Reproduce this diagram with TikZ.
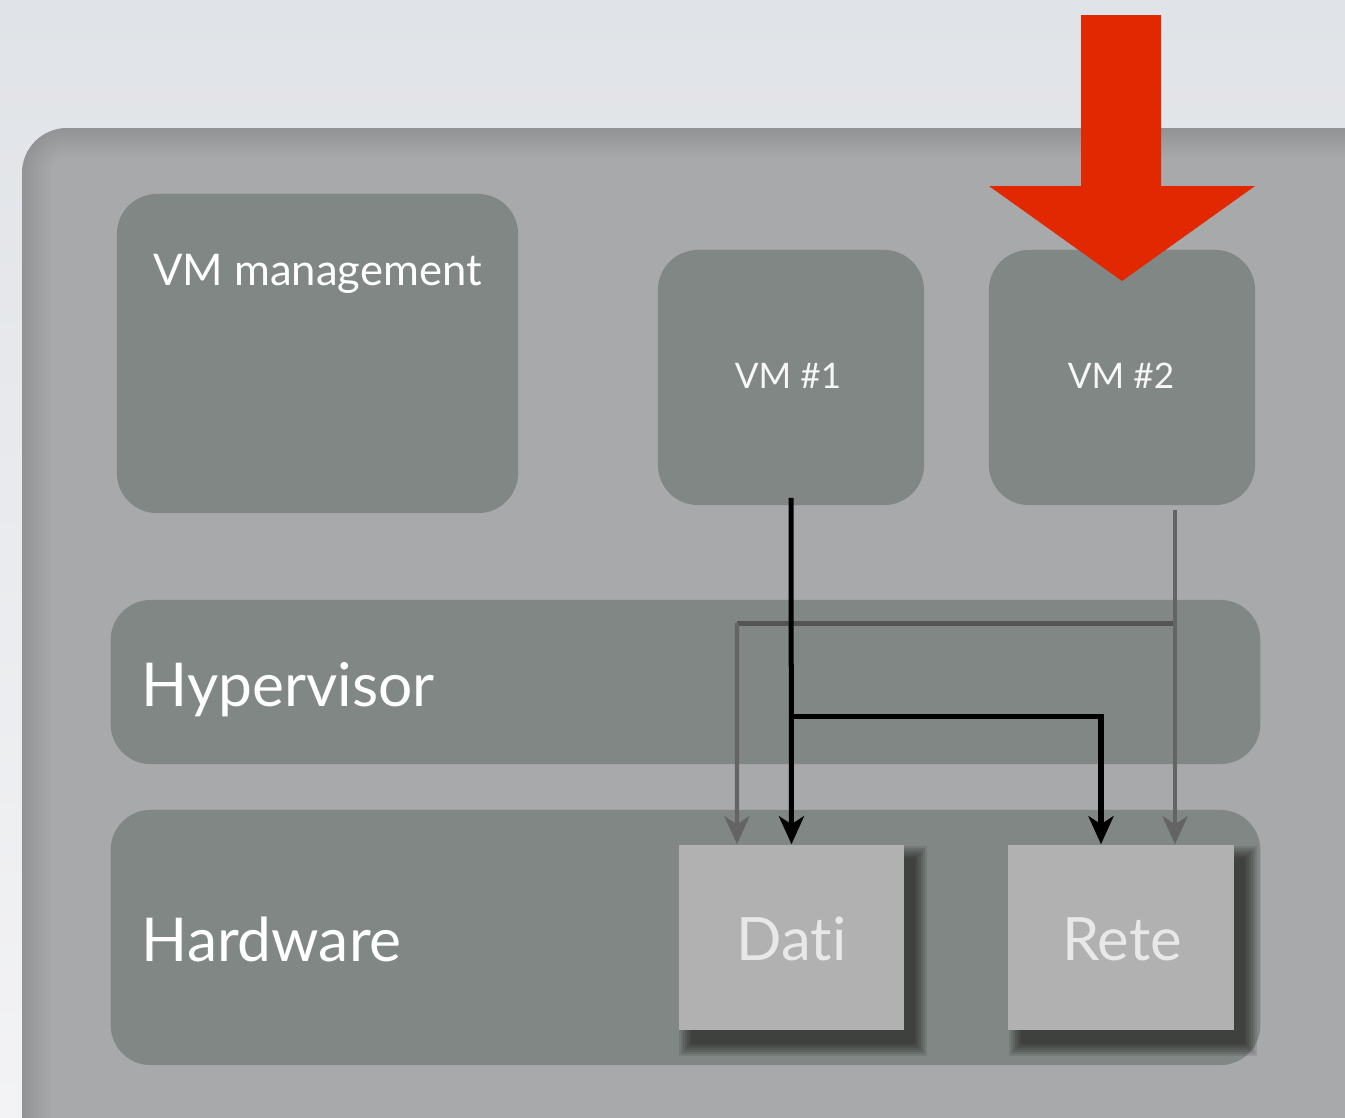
\documentclass[tikz,border=0pt]{standalone}
\usepackage{fontspec}
\setmainfont{Lato}[Ligatures=NoCommon]
\usetikzlibrary{arrows.meta}
\definecolor{bgtop}{HTML}{E0E3E7}
\definecolor{bgbot}{HTML}{F3F3F5}
\definecolor{panel}{HTML}{A8A9AA}
\definecolor{boxc}{HTML}{808784}
\definecolor{hwc}{HTML}{B1B1B1}
\definecolor{redarrow}{HTML}{E22800}
\definecolor{grayline}{HTML}{646464}
\definecolor{grayh}{HTML}{545454}
\definecolor{hwtext}{HTML}{E8E8E8}
\newcommand\hwshadow[1]{%
  \foreach \e in {0,2,...,12}{%
    \fill[black,opacity=0.095] ([shift={(-112.5+12-\e,-92.5+13-\e)}]#1) rectangle ([shift={(112.5+11+\e,92.5+14+\e)}]#1);
  }}
\begin{document}
\begin{tikzpicture}[x=0.01cm,y=-0.01cm,
  darkbox/.style={fill=boxc,rounded corners=0.4cm,draw=none,inner sep=0pt},
  hwbox/.style={fill=hwc,draw=none,inner sep=0pt,minimum width=2.25cm,minimum height=1.85cm},
  hwlabel/.style={text=hwtext,font=\fontsize{17}{20}\selectfont,inner sep=0pt},
  vmtext/.style={text=white!94!gray,font=\fontsize{10}{12}\selectfont,inner sep=0pt},
  biglabel/.style={text=white,font=\fontsize{17.2}{20}\selectfont,inner sep=0pt},
  blackarrow/.style={draw=black,line width=0.05cm,-{Stealth[length=0.28cm,width=0.25cm,inset=0.08cm]}},
  grayarrow/.style={draw=grayline,line width=0.042cm,-{Stealth[length=0.28cm,width=0.25cm,inset=0.08cm]}},
]
\clip (0,0) rectangle (1345,1117);
\shade[top color=bgtop,bottom color=bgbot] (0,0) rectangle (1345,1117);
% outer panel with soft inner edge
\fill[panel,rounded corners=0.45cm] (22,128) rectangle (1420,1200);
\begin{scope}
  \clip[rounded corners=0.45cm] (22,128) rectangle (1420,1200);
  \foreach \w in {0.08,0.16,...,0.64}{
    \draw[black,opacity=0.015,line width=\w cm,rounded corners=0.45cm] (22,128) rectangle (1420,1200);
  }
\end{scope}
% boxes
\node[darkbox,minimum width=4.01cm,minimum height=3.19cm] (vmm) at (317.5,353.5) {};
\node[vmtext,text=white,font=\fontsize{12.4}{15}\selectfont,anchor=base] (vmmtext) at (317.5,285) {VM management};
\node[darkbox,minimum width=2.66cm,minimum height=2.55cm] (vm1) at (791,377.5) {};
\node[vmtext,anchor=base] (vm1text) at (788,388) {VM \#1};
\node[darkbox,minimum width=2.66cm,minimum height=2.55cm] (vm2) at (1122,377.5) {};
\node[vmtext,anchor=base] (vm2text) at (1121,388) {VM \#2};
\node[darkbox,minimum width=11.49cm,minimum height=1.64cm] (hyp) at (685.5,682) {};
\node[biglabel,anchor=base west] (hyptext) at (141,706) {Hypervisor};
\node[darkbox,minimum width=11.49cm,minimum height=2.55cm] (hw) at (685.5,937.5) {};
\node[biglabel,anchor=base west] (hwtext) at (141,961) {Hardware};
\coordinate (dpos) at (791.5,937.5);
\coordinate (rpos) at (1121,937.5);
\hwshadow{dpos}
\hwshadow{rpos}
\node[hwbox] (dati) at (dpos) {};
\node[hwlabel,anchor=base] (datitext) at (791.5,960) {Dati};
\node[hwbox] (rete) at (rpos) {};
\node[hwlabel,anchor=base] (retetext) at (1122,960) {Rete};
% connectors
\coordinate (g0) at ([xshift=0.53cm,yshift=-0.04cm]vm2.south);
\coordinate (gb) at (1175,623);
\coordinate (gl) at (737,623);
\coordinate (d1) at ([xshift=-0.545cm]dati.north);
\coordinate (r2) at ([xshift=0.54cm]rete.north);
\draw[grayh,line width=0.05cm] (gb) -- (gl);
\draw[grayarrow] (gl) -- (d1);
\draw[grayarrow] (g0) -- (r2);
\coordinate (b0) at ([yshift=0.08cm]vm1.south);
\coordinate (bb) at (791,716);
\coordinate (r1) at ([xshift=-0.2cm]rete.north);
\draw[blackarrow] (b0) -- (dati.north);
\draw[blackarrow] (bb) -| (r1);
% red arrow
\fill[redarrow] (1081,15) -- (1161,15) -- (1161,186) -- (1255,186) -- (1122,281) -- (989,186) -- (1081,186) -- cycle;
\end{tikzpicture}
\end{document}
